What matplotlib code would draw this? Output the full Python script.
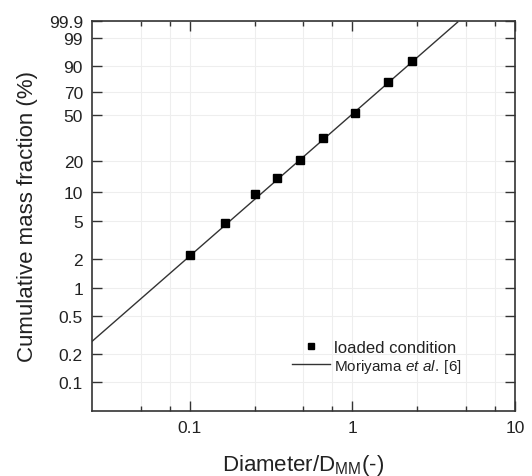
import numpy as np
import matplotlib
matplotlib.use("Agg")
import matplotlib.pyplot as plt
from matplotlib.ticker import FixedLocator, NullLocator, FixedFormatter

plt.rcParams['font.family'] = ['Liberation Sans', 'DejaVu Sans']
plt.rcParams['mathtext.fontset'] = 'custom'
plt.rcParams['mathtext.rm'] = 'Liberation Sans'
plt.rcParams['mathtext.it'] = 'Liberation Sans:italic'

# data
diameter = [0.10, 0.165, 0.25, 0.344, 0.477, 0.663, 1.04, 1.66, 2.32]
cum_mass = [2.24, 4.8, 9.5, 13.9, 20.6, 32.8, 51.7, 79.1, 92.5]

# Moriyama et al. line (end points)
mor_x = [0.025, 4.44]
mor_F = [0.271, 99.88]

ytick_vals = [0.1, 0.2, 0.5, 1, 2, 5, 10, 20, 50, 70, 90, 99, 99.9]
ytick_labels = ['0.1', '0.2', '0.5', '1', '2', '5', '10', '20', '50', '70', '90', '99', '99.9']
xtick_major = [0.1, 1, 10]
xtick_labels = ['0.1', '1', '10']
xtick_minor = [0.05, 0.075, 0.25, 0.5, 0.75, 2.5, 5, 7.5]


def fwd(F):
    F = np.clip(np.asarray(F, dtype=float), 1e-9, 100 - 1e-9)
    return np.log(-np.log(1 - F / 100.0))


def inv(u):
    u = np.asarray(u, dtype=float)
    return 100.0 * (1 - np.exp(-np.exp(u)))


txt = '#222222'
fig = plt.figure(figsize=(5.32, 4.77), dpi=100)
ax = fig.add_axes([92/532, 1 - 412/477, 423/532, 390/477])
ax.set_xscale('log')
ax.set_yscale('function', functions=(fwd, inv))
ax.set_xlim(0.025, 10)
ax.set_ylim(0.0494, 99.9)

ax.set_yticks(ytick_vals)
ax.yaxis.set_major_formatter(FixedFormatter(ytick_labels))
ax.yaxis.set_minor_locator(NullLocator())
ax.xaxis.set_major_locator(FixedLocator(xtick_major))
ax.xaxis.set_major_formatter(FixedFormatter(xtick_labels))
ax.xaxis.set_minor_locator(FixedLocator(xtick_minor))
ax.xaxis.set_minor_formatter(FixedFormatter([''] * len(xtick_minor)))

ax.grid(True, which='both', color='#eeeeee', linewidth=0.8)
ax.set_axisbelow(True)

ax.plot(mor_x, mor_F, color='#333333', linewidth=1.0,
        label='Moriyama $\\it{et\\ al.}$\u2009[6]', zorder=2)
ax.plot(diameter, cum_mass, linestyle='none', marker='s', markersize=5.2,
        color='black', label='loaded condition', zorder=3)

for sp in ax.spines.values():
    sp.set_color('#333333')
    sp.set_linewidth(1.2)

ax.tick_params(which='both', direction='in', top=True, right=True,
               colors='#333333', labelcolor=txt, labelsize=12.5, pad=6.5)
ax.tick_params(which='major', length=7, width=1.0)
ax.tick_params(which='minor', length=3.5, width=1.0)

ax.set_xlabel('Diameter/D$_{\\mathrm{MM}}$(-)', fontsize=16, color=txt, labelpad=12)
ax.set_ylabel('Cumulative mass fraction (%)', fontsize=16, color=txt, labelpad=8)

h, l = ax.get_legend_handles_labels()
leg = ax.legend([h[1], h[0]], [l[1], l[0]], loc='upper left',
                bbox_to_anchor=(0.473, 0.182), frameon=False, fontsize=12,
                borderpad=0, borderaxespad=0, handlelength=2.3,
                handletextpad=0.2, labelspacing=0.1, markerscale=0.8)
leg.get_texts()[1].set_fontsize(11)
for t in leg.get_texts():
    t.set_color(txt)

fig.savefig('out.png', dpi=100)
